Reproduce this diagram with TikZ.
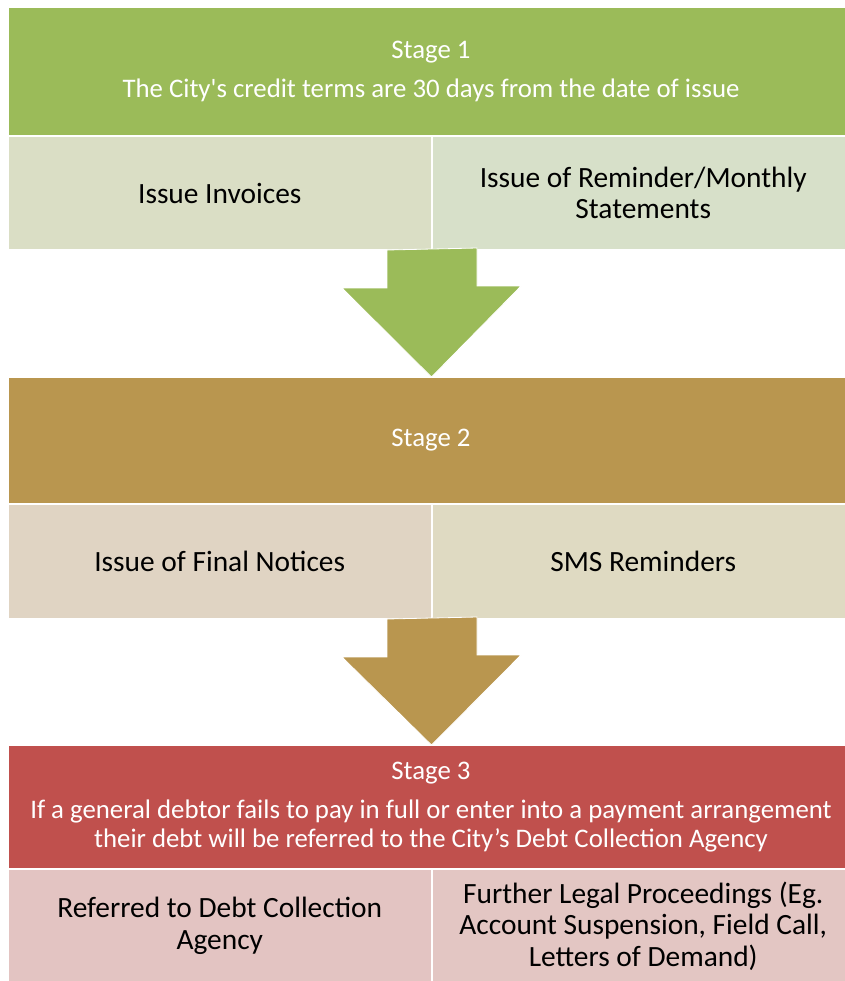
\documentclass[tikz,border=0pt]{standalone}
\usepackage{fontspec}
\setmainfont{Carlito}
\usetikzlibrary{positioning}

\definecolor{stageone}{HTML}{9BBB59}
\definecolor{stageonea}{HTML}{DADEC5}
\definecolor{stageoneb}{HTML}{D7E0C9}
\definecolor{stagetwo}{HTML}{B9964F}
\definecolor{stagetwoa}{HTML}{E0D4C3}
\definecolor{stagetwob}{HTML}{DFDAC2}
\definecolor{stagethree}{HTML}{C0504D}
\definecolor{stagethreea}{HTML}{E3C4C2}
\definecolor{stagethreeb}{HTML}{E3C6C3}

\tikzset{
	stagebox/.style={fill=#1, draw=white, line width=0.5pt, text=white, align=center,
		anchor=north west, minimum width=422.5pt, inner sep=0pt,
		font=\fontsize{13.4}{14.5}\selectfont},
	subbox/.style={fill=#1, draw=white, line width=0.5pt, align=center,
		minimum width=211.25pt, inner sep=0pt,
		font=\fontsize{14.7}{15.8}\selectfont},
	flow/.style={fill=#1, draw=white, line width=0.4pt}
}

\begin{document}
\begin{tikzpicture}[x=0.5pt,y=-0.5pt]
	\useasboundingbox (0,0) rectangle (845,981);

	\node[stagebox=stageone, minimum height=64pt] (s1) at (8,7)
		{Stage 1\\[5pt] The City\textquotesingle s credit terms are 30 days from the date of issue};
	\node[subbox=stageonea, minimum height=56.5pt, anchor=north west] (s1l) at (s1.south west) {Issue Invoices};
	\node[subbox=stageoneb, minimum height=56.5pt, right=0pt of s1l] (s1r) {Issue of Reminder/Monthly\\Statements};

	\node[stagebox=stagetwo, minimum height=63pt] (s2) at (8,377) {Stage 2};
	\node[subbox=stagetwoa, minimum height=57pt, anchor=north west] (s2l) at (s2.south west) {Issue of Final Notices};
	\node[subbox=stagetwob, minimum height=57pt, right=0pt of s2l] (s2r) {SMS Reminders};

	\node[stagebox=stagethree, minimum height=61.5pt] (s3) at (8,745)
		{Stage 3\\[5pt] If a general debtor fails to pay in full or enter into a payment arrangement\\
		their debt will be referred to the City’s Debt Collection Agency};
	\node[subbox=stagethreea, minimum height=56.5pt, anchor=north west] (s3l) at (s3.south west) {Referred to Debt Collection\\Agency};
	\node[subbox=stagethreeb, minimum height=56.5pt, right=0pt of s3l] (s3r) {Further Legal Proceedings (Eg.\\Account Suspension, Field Call,\\Letters of Demand)};

	% block arrows between the stages
	\draw[flow=stageone] ([xshift=-22.25pt]s1l.south east) -- ++(0,38) -- ++(-45,0)
		-- (s1l.south east |- s2.north) -- ++(89.5,-91) -- ++(-44,0) -- ++(0,-38) -- cycle;
	\draw[flow=stagetwo] ([xshift=-22.25pt]s2l.south east) -- ++(0,38) -- ++(-45,0)
		-- (s2l.south east |- s3.north) -- ++(89.5,-90) -- ++(-44,0) -- ++(0,-38) -- cycle;
\end{tikzpicture}
\end{document}
